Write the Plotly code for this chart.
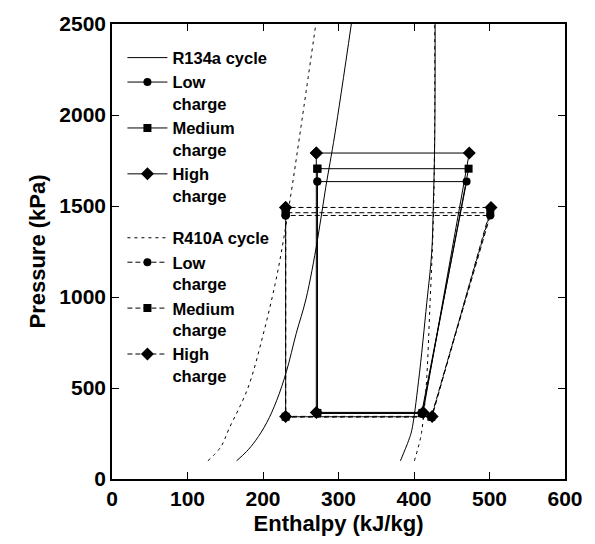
import plotly.graph_objects as go

# Saturation curves (enthalpy kJ/kg, pressure kPa)
r134a_liq_h = [165, 178, 190, 205, 218, 231, 244, 257, 272, 283, 295, 317]
r134a_liq_p = [100, 150, 210, 310, 430, 590, 800, 990, 1310, 1600, 1890, 2500]
r134a_vap_h = [382, 393, 397, 406, 417, 423.4, 425.6, 427.5, 428]
r134a_vap_p = [100, 213, 267, 537, 971, 1241, 1509, 1880, 2500]

r410a_liq_h = [127, 144, 155, 180, 200, 216, 224, 237, 248, 270]
r410a_liq_p = [100, 176, 276, 500, 790, 1070, 1240, 1565, 1870, 2500]
r410a_vap_h = [400.5, 408, 410.4, 416, 421.3, 425.6, 427.3, 427.3]
r410a_vap_p = [100, 213, 267, 500, 971, 1421, 1889, 2500]

# Refrigeration cycle state points for each charge level
charges = ["Low", "Medium", "High"]

r134a_cond_p = [1634, 1705, 1791]
r134a_evap_p = [360, 363, 366]
r134a_h_exp = [272, 272, 270.6]
r134a_h_evap_out = [410, 411, 412]
r134a_h_comp_out = [469.7, 472.3, 473.2]

r410a_cond_p = [1448, 1463, 1492]
r410a_evap_p = [340, 342, 344]
r410a_h_exp = [230, 230, 230]
r410a_h_evap_out = [423, 423, 424]
r410a_h_comp_out = [501, 501, 502]

marker_symbols = ["circle", "square", "diamond"]
marker_sizes = [8, 8, 10]

FONT = "Liberation Sans, Arial, sans-serif"
fig = go.Figure()


def add_dome(liq_h, liq_p, vap_h, vap_p, name, group, dash):
    fig.add_trace(go.Scatter(
        x=liq_h, y=liq_p, mode="lines", name=name, legendgroup=group,
        line=dict(color="black", width=1, dash=dash, shape="spline"),
        showlegend=True))
    fig.add_trace(go.Scatter(
        x=vap_h, y=vap_p, mode="lines", name=name, legendgroup=group,
        line=dict(color="black", width=1, dash=dash, shape="spline"),
        showlegend=False))


def add_cycles(h_exp, h_evap_out, h_comp_out, cond_p, evap_p, group, dash):
    for i, label in enumerate(charges):
        xs = [h_exp[i], h_exp[i], h_evap_out[i], h_comp_out[i], h_exp[i]]
        ys = [cond_p[i], evap_p[i], evap_p[i], cond_p[i], cond_p[i]]
        fig.add_trace(go.Scatter(
            x=xs, y=ys, mode="lines+markers",
            name=f"<b>{label}<br>charge</b>", legendgroup=group,
            line=dict(color="black", width=1, dash=dash),
            marker=dict(symbol=marker_symbols[i], size=marker_sizes[i], color="black")))


add_dome(r134a_liq_h, r134a_liq_p, r134a_vap_h, r134a_vap_p,
         "<b>R134a cycle</b>", "r134a", "solid")
add_cycles(r134a_h_exp, r134a_h_evap_out, r134a_h_comp_out,
           r134a_cond_p, r134a_evap_p, "r134a", "solid")
add_dome(r410a_liq_h, r410a_liq_p, r410a_vap_h, r410a_vap_p,
         "<b>R410A cycle</b>", "r410a", "3px,4px")
add_cycles(r410a_h_exp, r410a_h_evap_out, r410a_h_comp_out,
           r410a_cond_p, r410a_evap_p, "r410a", "5px,3px")

axis_common = dict(
    showline=True, linecolor="black", linewidth=1.5, mirror="ticks",
    ticks="inside", ticklen=7, tickcolor="black", tickwidth=1,
    showgrid=False, zeroline=False,
    tickfont=dict(family=FONT, size=21, color="black", weight="bold"),
)

fig.update_layout(
    width=595, height=544,
    margin=dict(l=112, r=21, t=17, b=65),
    paper_bgcolor="white", plot_bgcolor="white",
    font=dict(family=FONT, color="black"),
    xaxis=dict(range=[0, 600], dtick=100,
               title=dict(text="Enthalpy (kJ/kg)", standoff=7,
                          font=dict(family=FONT, size=22, color="black", weight="bold")),
               **axis_common),
    yaxis=dict(range=[0, 2500], dtick=500,
               title=dict(text="Pressure (kPa)", standoff=8,
                          font=dict(family=FONT, size=22, color="black", weight="bold")),
               **axis_common),
    legend=dict(x=0.023, y=0.964, xanchor="left", yanchor="top",
                bgcolor="rgba(0,0,0,0)", borderwidth=0,
                font=dict(family=FONT, size=16.5, color="black", weight="bold"),
                itemwidth=40,
                traceorder="grouped", tracegroupgap=18, valign="top",
                itemclick=False, itemdoubleclick=False),
    showlegend=True,
)

fig.write_html("out.html")
